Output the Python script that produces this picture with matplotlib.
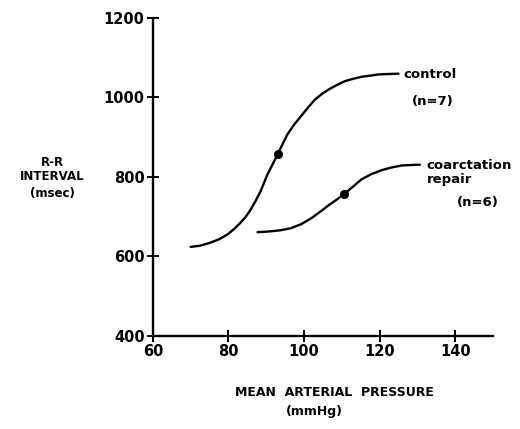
#!/usr/bin/env python3
"""
R-R interval vs mean arterial pressure: control vs coarctation repair
"""

import matplotlib.pyplot as plt

# control curve (n=7)
control_map = [70, 72.5, 75, 77.5, 79.7, 81.5, 83.2, 84.6, 85.9, 87.2, 88.5, 90.3, 91.7,
               93, 94.3, 95.6, 97.4, 99.2, 101, 102.7, 104.6, 106.5, 108.6, 110.8,
               113, 115.2, 117.5, 119.7, 122, 125]
control_rr = [624, 627, 634, 643, 655, 669, 685, 700, 718, 740, 764, 806, 832,
              857, 882, 907, 932, 953, 974, 993, 1008, 1020, 1031, 1041,
              1047, 1052, 1055, 1058, 1059, 1060]
control_dot = (93, 857)

# coarctation repair curve (n=6)
coarct_map = [87.7, 91, 93.9, 96.5, 99.2, 101.9, 104.5, 106.4, 108.5, 110.6, 113, 115.2,
              117.8, 120.5, 123.2, 125.9, 128.3, 130.7]
coarct_rr = [661, 663, 666, 671, 681, 696, 714, 728, 742, 757, 776, 794,
              807, 817, 824, 829, 830, 831]
coarct_dot = (110.6, 757)

x_ticks = [60, 80, 100, 120, 140]
y_ticks = [400, 600, 800, 1000, 1200]

plt.rcParams['font.family'] = ['DejaVu Sans']
plt.rcParams['font.weight'] = 'bold'

fig = plt.figure(figsize=(5.2, 4.29), dpi=100)
ax = fig.add_axes([0.294, 0.217, 0.654, 0.741])

ax.plot(control_map, control_rr, color='black', lw=1.7, solid_capstyle='round')
ax.plot(coarct_map, coarct_rr, color='black', lw=1.7, solid_capstyle='round')
ax.plot(*control_dot, 'o', color='black', ms=5.5)
ax.plot(*coarct_dot, 'o', color='black', ms=5.5)

ax.set_xlim(60, 150)
ax.set_ylim(400, 1200)
ax.set_xticks(x_ticks)
ax.set_yticks(y_ticks)
ax.spines['top'].set_visible(False)
ax.spines['right'].set_visible(False)
for s in ('left', 'bottom'):
    ax.spines[s].set_linewidth(1.7)
ax.tick_params(direction='inout', length=8, width=1.4, labelsize=10.5, pad=2)
for lbl in ax.get_xticklabels() + ax.get_yticklabels():
    lbl.set_fontweight('bold')

# curve labels
ax.text(126.4, 1057, 'control', fontsize=9.5, fontweight='bold', va='center')
ax.text(134, 990, '(n=7)', fontsize=9.5, fontweight='bold', ha='center', va='center')
ax.text(132.5, 830, 'coarctation', fontsize=9.5, fontweight='bold', va='center')
ax.text(132.5, 793, 'repair', fontsize=9.5, fontweight='bold', va='center')
ax.text(146, 735, '(n=6)', fontsize=9.5, fontweight='bold', ha='center', va='center')

# axis titles
fig.text(52 / 520, 1 - 163 / 429, 'R-R', fontsize=8.5, fontweight='bold', ha='center', va='center')
fig.text(52 / 520, 1 - 177 / 429, 'INTERVAL', fontsize=8.5, fontweight='bold', ha='center', va='center')
fig.text(52 / 520, 1 - 193 / 429, '(msec)', fontsize=8.5, fontweight='bold', ha='center', va='center')
fig.text(334 / 520, 1 - 392 / 429, 'MEAN  ARTERIAL  PRESSURE', fontsize=9, fontweight='bold',
         ha='center', va='center')
fig.text(314 / 520, 1 - 412 / 429, '(mmHg)', fontsize=9, fontweight='bold', ha='center', va='center')

fig.savefig('out.png', dpi=100, facecolor='white')
